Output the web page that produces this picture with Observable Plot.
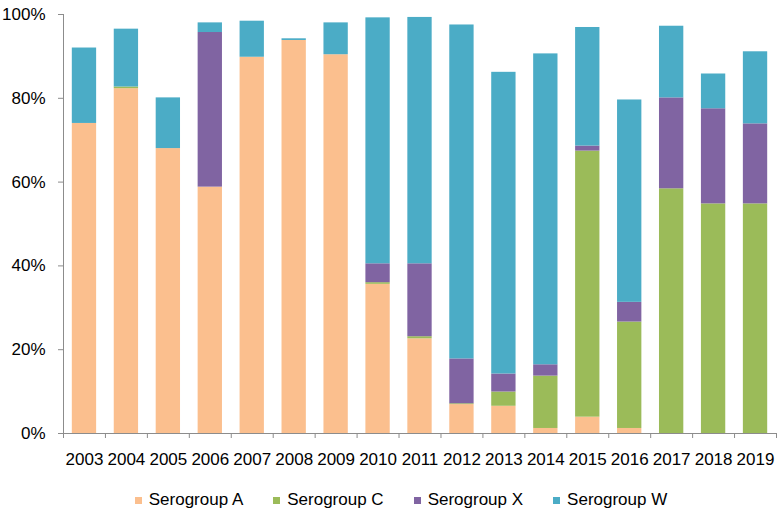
<!DOCTYPE html>
<html>
<head>
<meta charset="utf-8">
<script src="https://cdn.jsdelivr.net/npm/d3@7"></script>
<script src="https://cdn.jsdelivr.net/npm/@observablehq/plot@0.6"></script>
<style>
  body { margin: 0; background: #fff; width: 782px; }
  #chart svg { display: block; }
  .legend { display: flex; justify-content: center; gap: 30px; padding-top: 17px; padding-left: 20px;
    font-family: "Liberation Sans", Arial, sans-serif; font-size: 17px; color: #000; line-height: 16px; }
  .legend .item { display: flex; align-items: center; }
  .legend .sw { width: 7px; height: 7px; margin-right: 7px; margin-top: 1px; }
</style>
</head>
<body>
<div id="chart"></div>
<div class="legend" id="legend"></div>
<script>
const years = [2003, 2004, 2005, 2006, 2007, 2008, 2009, 2010, 2011, 2012, 2013, 2014, 2015, 2016, 2017, 2018, 2019];
const groups = ["Serogroup A", "Serogroup C", "Serogroup X", "Serogroup W"];
const colors = ["#FBBF8E", "#9BBB59", "#8064A2", "#4BACC6"];
const serogroupA = [74, 82.3, 68, 58.8, 89.8, 93.8, 90.4, 35.6, 22.6, 6.9, 6.5, 1.2, 3.9, 1.2, 0, 0, 0];
const serogroupC = [0, 0.4, 0, 0, 0, 0, 0, 0.4, 0.5, 0.2, 3.4, 12.5, 63.5, 25.4, 58.4, 54.8, 54.8];
const serogroupX = [0, 0, 0, 36.9, 0, 0, 0, 4.5, 17.4, 10.7, 4.3, 2.7, 1.2, 4.7, 21.7, 22.7, 19.1];
const serogroupW = [18, 13.8, 12.1, 2.3, 8.6, 0.4, 7.6, 58.7, 58.8, 79.7, 72, 74.2, 28.3, 48.3, 17.1, 8.3, 17.2];
const yTicks = [0, 20, 40, 60, 80, 100];

const series = [serogroupA, serogroupC, serogroupX, serogroupW];
const table = [];
years.forEach((yr, i) => groups.forEach((g, j) => table.push({year: yr, group: g, value: series[j][i]})));
const bounds = d3.range(years.length + 1).map(i => years[0] - 0.5 + i);
const half = 0.29;
const font = '"Liberation Sans", Arial, sans-serif';

const chart = Plot.plot({
  width: 782,
  height: 475,
  marginLeft: 63,
  marginRight: 6,
  marginTop: 14,
  marginBottom: 42,
  style: {fontFamily: font, fontSize: "17px", color: "#000", background: "#fff"},
  x: {domain: [bounds[0], bounds[bounds.length - 1]], axis: null},
  y: {domain: [0, 100], axis: null},
  color: {domain: groups, range: colors},
  marks: [
    Plot.rectY(table, Plot.stackY({
      x1: d => d.year - half,
      x2: d => d.year + half,
      y: "value",
      fill: "group"
    })),
    Plot.ruleX([bounds[0]], {stroke: "#8c8c8c"}),
    Plot.ruleY([0], {stroke: "#8c8c8c"}),
    Plot.axisX(bounds, {tickSize: 5, stroke: "#8c8c8c", tickFormat: () => "", label: null}),
    Plot.axisX(years, {tickSize: 0, tickPadding: 19, tickFormat: d => String(d), fontSize: 17, fill: "#000", label: null}),
    Plot.axisY(yTicks, {tickSize: 5, tickPadding: 13, stroke: "#8c8c8c", tickFormat: d => d + "%", fontSize: 17, fill: "#000", label: null})
  ]
});
document.getElementById("chart").appendChild(chart);

const legend = document.getElementById("legend");
groups.forEach((g, i) => {
  const item = document.createElement("div");
  item.className = "item";
  const sw = document.createElement("span");
  sw.className = "sw";
  sw.style.background = colors[i];
  const label = document.createElement("span");
  label.textContent = g;
  item.appendChild(sw);
  item.appendChild(label);
  legend.appendChild(item);
});
</script>
</body>
</html>
